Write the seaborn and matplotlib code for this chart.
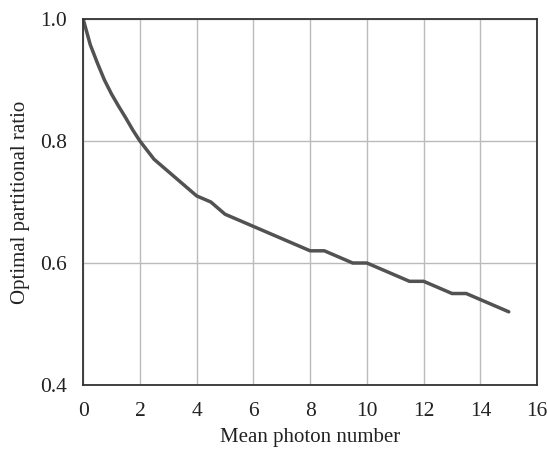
import numpy as np
import pandas as pd
import matplotlib
matplotlib.use("Agg")
import matplotlib.pyplot as plt
import seaborn as sns

# mean photon number vs optimal partitional ratio
mean_photon = [0, 0.25, 0.5, 0.75, 1, 1.25, 1.5, 1.75, 2, 2.5, 3, 3.5, 4, 4.5, 5,
               5.5, 6, 6.5, 7, 7.5, 8, 8.5, 9, 9.5, 10, 10.5, 11, 11.5, 12, 12.5,
               13, 13.5, 14, 14.5, 15]
ratio = [1.00, 0.958, 0.928, 0.900, 0.877, 0.857, 0.838, 0.818, 0.80, 0.77, 0.75,
         0.73, 0.71, 0.70, 0.68, 0.67, 0.66, 0.65, 0.64, 0.63, 0.62, 0.62, 0.61,
         0.60, 0.60, 0.59, 0.58, 0.57, 0.57, 0.56, 0.55, 0.55, 0.54, 0.53, 0.52]

x_ticks = [0, 2, 4, 6, 8, 10, 12, 14, 16]
y_ticks = [0.4, 0.6, 0.8, 1.0]

df = pd.DataFrame({"n": mean_photon, "r": ratio})

sns.set_style("white")
plt.rcParams["font.family"] = ["Liberation Serif", "DejaVu Serif"]

fig = plt.figure(figsize=(5.47, 4.49), dpi=100)
ax = fig.add_axes([0.152, 0.1425, 0.83, 0.8152])

sns.lineplot(data=df, x="n", y="r", ax=ax, color="#525252", linewidth=2.5)

ax.set_xlim(0, 16)
ax.set_ylim(0.4, 1.0)
ax.set_xticks(x_ticks)
ax.set_yticks(y_ticks)
ax.set_xticklabels([str(t) for t in x_ticks])
ax.set_yticklabels([f"{t:.1f}" for t in y_ticks])
ax.grid(True, color="#bbbbbb", linewidth=1.0)
ax.set_axisbelow(True)
plt.setp(ax.spines.values(), linewidth=1.3, color="#333333")
ax.tick_params(direction="in", length=5, width=1, colors="#333333",
               labelcolor="#222222", labelsize=15.5)
ax.tick_params(axis="y", pad=11.5)
ax.tick_params(axis="x", pad=12)
ax.set_xlabel("Mean photon number", fontsize=15, color="#222222", labelpad=5)
ax.set_ylabel("Optimal partitional ratio", fontsize=15, color="#222222", labelpad=7)

fig.savefig("out.png", dpi=100)
